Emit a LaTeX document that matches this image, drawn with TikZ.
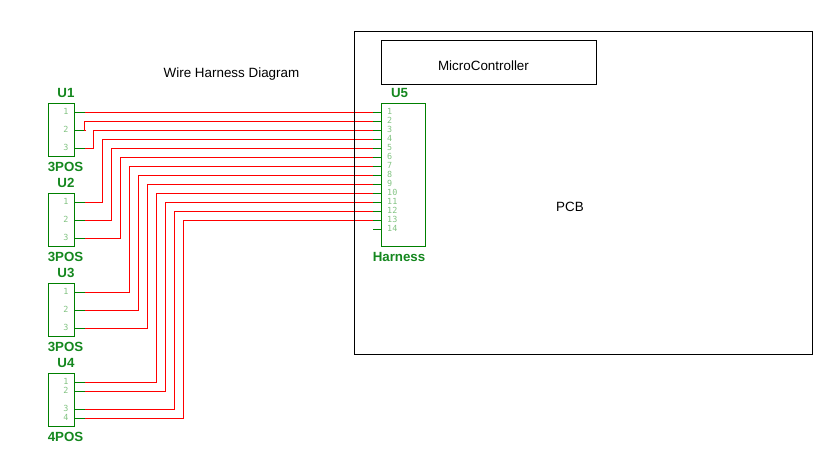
\documentclass[tikz,border=0pt]{standalone}
\usepackage{fontspec}
\setmainfont{Liberation Sans}
\newfontfamily\pinfont{DejaVu Sans Mono}
\definecolor{partgreen}{RGB}{0,128,0}
\definecolor{labelgreen}{RGB}{20,135,30}
\definecolor{pingreen}{RGB}{130,195,130}
\definecolor{wirered}{RGB}{255,0,0}
\begin{document}
\begin{tikzpicture}[x=1pt,y=-1pt,
  conn/.style={draw=partgreen,line width=1pt,minimum width=26pt,minimum height=53pt,inner sep=0pt,outer sep=0pt,anchor=north west},
  harness/.style={conn,minimum width=44pt,minimum height=143pt},
  blackbox/.style={draw=black,line width=1pt,inner sep=0pt,outer sep=0pt,anchor=north west},
  partname/.style={text=labelgreen,font=\fontsize{13.3}{13}\selectfont\bfseries,inner sep=0pt},
  plain/.style={text=black,font=\fontsize{13.4}{13}\selectfont,inner sep=0pt},
  pinnum/.style={text=pingreen,font=\pinfont\fontsize{8.4}{8}\selectfont,inner sep=0pt},
  stub/.style={draw=partgreen,line width=1pt},
  wire/.style={draw=wirered,line width=1pt}]
\useasboundingbox (0,0) rectangle (840,465);
% connectors
\node[conn] (U1) at (48.5,103.5) {};
\node[conn] (U2) at (48.5,193.5) {};
\node[conn] (U3) at (48.5,283.5) {};
\node[conn] (U4) at (48.5,373.5) {};
\node[harness] (U5) at (381.5,103.5) {};
% part labels
\node[partname] (nU1) at (66,93) {U1};
\node[partname] (tU1) at (65.5,167) {3POS};
\node[partname] (nU2) at (66,183) {U2};
\node[partname] (tU2) at (65.5,257) {3POS};
\node[partname] (nU3) at (66,273) {U3};
\node[partname] (tU3) at (65.5,347) {3POS};
\node[partname] (nU4) at (66,363) {U4};
\node[partname] (tU4) at (65.5,437) {4POS};
\node[partname] (nU5) at (399.5,93) {U5};
\node[partname] (tU5) at (399,257) {Harness};
% pin numbers and pin points on the small connectors
\foreach \part/\pin/\y in {U1/1/112.5,U1/2/130.5,U1/3/148.5,U2/1/202.5,U2/2/220.5,U2/3/238.5,U3/1/292.5,U3/2/310.5,U3/3/328.5,U4/1/382.5,U4/2/391.5,U4/3/409.5,U4/4/418.5}{
  \node[pinnum] (l\part p\pin) at (66,\y-0.8) {\pin};
  \coordinate (\part p\pin) at (75,\y);
  \coordinate (\part q\pin) at (85,\y);
  \draw[stub] (\part p\pin) -- (\part q\pin);
}
% harness pins
\foreach \pin in {1,...,14}{
  \pgfmathsetmacro{\yy}{112.5+9*(\pin-1)}
  \node[pinnum,anchor=west] (lh\pin) at (387,\yy-0.8) {\pin};
  \coordinate (H\pin) at (381,\yy);
  \coordinate (J\pin) at (373,\yy);
  \draw[stub] (J\pin) -- (H\pin);
}
% wires
\draw[wire] (U1q1) -- (J1);
\draw[wire] (U1q2) -- (84.5,130.5) -- (84.5,121.5) -- (J2);
\draw[wire] (U1q3) -- (93.5,148.5) -- (93.5,130.5) -- (J3);
\draw[wire] (U2q1) -- (102.5,202.5) -- (102.5,139.5) -- (J4);
\draw[wire] (U2q2) -- (111.5,220.5) -- (111.5,148.5) -- (J5);
\draw[wire] (U2q3) -- (120.5,238.5) -- (120.5,157.5) -- (J6);
\draw[wire] (U3q1) -- (129.5,292.5) -- (129.5,166.5) -- (J7);
\draw[wire] (U3q2) -- (138.5,310.5) -- (138.5,175.5) -- (J8);
\draw[wire] (U3q3) -- (147.5,328.5) -- (147.5,184.5) -- (J9);
\draw[wire] (U4q1) -- (156.5,382.5) -- (156.5,193.5) -- (J10);
\draw[wire] (U4q2) -- (165.5,391.5) -- (165.5,202.5) -- (J11);
\draw[wire] (U4q3) -- (174.5,409.5) -- (174.5,211.5) -- (J12);
\draw[wire] (U4q4) -- (183.5,418.5) -- (183.5,220.5) -- (J13);
% PCB and microcontroller
\node[blackbox,minimum width=458pt,minimum height=323pt] (PCB) at (354.5,31.5) {};
\node[blackbox,minimum width=215pt,minimum height=44pt] (MCU) at (381.5,40.5) {};
\node[plain] (tMCU) at (483.5,65.5) {MicroController};
\node[plain] (tPCB) at (570,206.5) {PCB};
\node[plain] (title) at (231.5,74) {Wire Harness Diagram};
\end{tikzpicture}
\end{document}
